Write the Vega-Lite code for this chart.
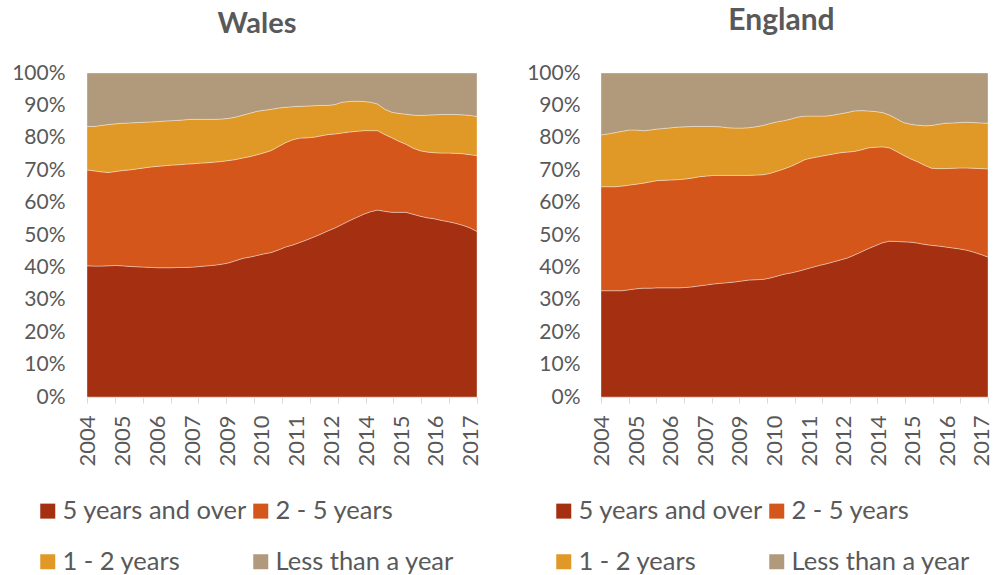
{
 "$schema": "https://vega.github.io/schema/vega-lite/v6.json",
 "padding": {"left": 11, "top": 6, "right": 0, "bottom": 0},
 "config": {"view": {"stroke": null}, "font": "Lato", "concat": {"spacing": 38}},
 "datasets": {
  "wales": [
   {"t":0,"a":40.5,"b":29.6,"c":13.4,"d":16.5},{"t":1,"a":40.4,"b":29.4,"c":13.7,"d":16.5},{"t":2,"a":40.4,"b":29.1,"c":14.3,"d":16.2},{"t":3,"a":40.5,"b":28.8,"c":14.8,"d":15.9},
   {"t":4,"a":40.6,"b":29.0,"c":14.7,"d":15.7},{"t":5,"a":40.5,"b":29.4,"c":14.6,"d":15.5},{"t":6,"a":40.3,"b":29.8,"c":14.5,"d":15.4},{"t":7,"a":40.2,"b":30.2,"c":14.3,"d":15.3},
   {"t":8,"a":40.1,"b":30.6,"c":14.1,"d":15.2},{"t":9,"a":40.0,"b":31.0,"c":13.9,"d":15.1},{"t":10,"a":39.9,"b":31.3,"c":13.8,"d":15.0},{"t":11,"a":39.9,"b":31.5,"c":13.8,"d":14.8},
   {"t":12,"a":39.9,"b":31.7,"c":13.7,"d":14.7},{"t":13,"a":40.0,"b":31.7,"c":13.7,"d":14.6},{"t":14,"a":40.0,"b":31.9,"c":13.7,"d":14.4},{"t":15,"a":40.1,"b":31.9,"c":13.7,"d":14.3},
   {"t":16,"a":40.3,"b":31.9,"c":13.5,"d":14.3},{"t":17,"a":40.5,"b":31.8,"c":13.4,"d":14.3},{"t":18,"a":40.7,"b":31.8,"c":13.2,"d":14.3},{"t":19,"a":41.0,"b":31.7,"c":13.1,"d":14.2},
   {"t":20,"a":41.4,"b":31.6,"c":13.0,"d":14.0},{"t":21,"a":42.1,"b":31.2,"c":13.1,"d":13.6},{"t":22,"a":42.8,"b":31.0,"c":13.2,"d":13.0},{"t":23,"a":43.2,"b":31.0,"c":13.4,"d":12.4},
   {"t":24,"a":43.7,"b":31.1,"c":13.4,"d":11.8},{"t":25,"a":44.2,"b":31.2,"c":13.1,"d":11.5},{"t":26,"a":44.6,"b":31.5,"c":12.7,"d":11.2},{"t":27,"a":45.4,"b":31.9,"c":11.9,"d":10.8},
   {"t":28,"a":46.3,"b":32.2,"c":10.9,"d":10.6},{"t":29,"a":46.9,"b":32.5,"c":10.2,"d":10.4},{"t":30,"a":47.7,"b":32.2,"c":9.8,"d":10.3},{"t":31,"a":48.5,"b":31.5,"c":9.8,"d":10.2},
   {"t":32,"a":49.4,"b":30.8,"c":9.7,"d":10.1},{"t":33,"a":50.3,"b":30.3,"c":9.4,"d":10.0},{"t":34,"a":51.3,"b":29.7,"c":9.0,"d":10.0},{"t":35,"a":52.2,"b":29.0,"c":9.1,"d":9.7},
   {"t":36,"a":53.3,"b":28.2,"c":9.5,"d":9.0},{"t":37,"a":54.4,"b":27.4,"c":9.4,"d":8.8},{"t":38,"a":55.4,"b":26.6,"c":9.3,"d":8.7},{"t":39,"a":56.4,"b":25.8,"c":9.0,"d":8.8},
   {"t":40,"a":57.2,"b":25.0,"c":8.8,"d":9.0},{"t":41,"a":57.7,"b":24.5,"c":8.2,"d":9.6},{"t":42,"a":57.3,"b":23.7,"c":7.8,"d":11.2},{"t":43,"a":57.0,"b":23.0,"c":7.9,"d":12.1},
   {"t":44,"a":57.0,"b":21.9,"c":8.6,"d":12.5},{"t":45,"a":57.0,"b":21.0,"c":9.3,"d":12.7},{"t":46,"a":56.4,"b":20.4,"c":10.2,"d":13.0},{"t":47,"a":55.8,"b":20.2,"c":10.9,"d":13.1},
   {"t":48,"a":55.3,"b":20.3,"c":11.4,"d":13.0},{"t":49,"a":55.0,"b":20.4,"c":11.7,"d":12.9},{"t":50,"a":54.5,"b":20.8,"c":11.9,"d":12.8},{"t":51,"a":54.1,"b":21.2,"c":11.9,"d":12.8},
   {"t":52,"a":53.6,"b":21.6,"c":12.0,"d":12.8},{"t":53,"a":53.0,"b":22.1,"c":12.0,"d":12.9},{"t":54,"a":52.2,"b":22.6,"c":12.1,"d":13.1},{"t":55,"a":51.1,"b":23.4,"c":12.1,"d":13.4}
  ],
  "england": [
   {"t":0,"a":32.8,"b":32.1,"c":16.0,"d":19.1},{"t":1,"a":32.8,"b":32.1,"c":16.3,"d":18.8},{"t":2,"a":32.8,"b":32.1,"c":16.7,"d":18.4},{"t":3,"a":32.8,"b":32.3,"c":16.9,"d":18.0},
   {"t":4,"a":33.1,"b":32.3,"c":17.0,"d":17.6},{"t":5,"a":33.4,"b":32.3,"c":16.7,"d":17.6},{"t":6,"a":33.6,"b":32.4,"c":16.2,"d":17.8},{"t":7,"a":33.6,"b":32.8,"c":16.0,"d":17.6},
   {"t":8,"a":33.7,"b":33.1,"c":15.9,"d":17.3},{"t":9,"a":33.7,"b":33.2,"c":16.0,"d":17.1},{"t":10,"a":33.7,"b":33.3,"c":16.1,"d":16.9},{"t":11,"a":33.7,"b":33.4,"c":16.2,"d":16.7},
   {"t":12,"a":33.8,"b":33.5,"c":16.1,"d":16.6},{"t":13,"a":34.0,"b":33.6,"c":15.9,"d":16.5},{"t":14,"a":34.3,"b":33.7,"c":15.5,"d":16.5},{"t":15,"a":34.6,"b":33.6,"c":15.3,"d":16.5},
   {"t":16,"a":34.9,"b":33.5,"c":15.1,"d":16.5},{"t":17,"a":35.1,"b":33.3,"c":15.0,"d":16.6},{"t":18,"a":35.3,"b":33.1,"c":14.7,"d":16.9},{"t":19,"a":35.5,"b":32.9,"c":14.6,"d":17.0},
   {"t":20,"a":35.8,"b":32.6,"c":14.6,"d":17.0},{"t":21,"a":36.1,"b":32.3,"c":14.7,"d":16.9},{"t":22,"a":36.2,"b":32.3,"c":14.9,"d":16.6},{"t":23,"a":36.3,"b":32.3,"c":15.2,"d":16.2},
   {"t":24,"a":36.7,"b":32.3,"c":15.4,"d":15.6},{"t":25,"a":37.3,"b":32.4,"c":15.2,"d":15.1},{"t":26,"a":37.9,"b":32.5,"c":14.9,"d":14.7},{"t":27,"a":38.3,"b":32.9,"c":14.6,"d":14.2},
   {"t":28,"a":38.8,"b":33.4,"c":14.2,"d":13.6},{"t":29,"a":39.4,"b":33.9,"c":13.4,"d":13.3},{"t":30,"a":40.0,"b":33.8,"c":12.9,"d":13.3},{"t":31,"a":40.6,"b":33.6,"c":12.5,"d":13.3},
   {"t":32,"a":41.1,"b":33.5,"c":12.1,"d":13.3},{"t":33,"a":41.7,"b":33.3,"c":12.0,"d":13.0},{"t":34,"a":42.3,"b":33.1,"c":12.0,"d":12.6},{"t":35,"a":42.9,"b":32.7,"c":12.2,"d":12.2},
   {"t":36,"a":43.8,"b":32.0,"c":12.5,"d":11.7},{"t":37,"a":44.8,"b":31.5,"c":12.1,"d":11.6},{"t":38,"a":45.8,"b":31.1,"c":11.4,"d":11.7},{"t":39,"a":46.7,"b":30.4,"c":11.0,"d":11.9},
   {"t":40,"a":47.6,"b":29.6,"c":10.6,"d":12.2},{"t":41,"a":48.1,"b":28.8,"c":10.1,"d":13.0},{"t":42,"a":48.0,"b":27.8,"c":10.1,"d":14.1},{"t":43,"a":47.9,"b":26.7,"c":10.1,"d":15.3},
   {"t":44,"a":47.8,"b":25.7,"c":10.7,"d":15.8},{"t":45,"a":47.5,"b":25.1,"c":11.3,"d":16.1},{"t":46,"a":47.1,"b":24.4,"c":12.2,"d":16.3},{"t":47,"a":46.8,"b":23.8,"c":13.2,"d":16.2},
   {"t":48,"a":46.6,"b":23.9,"c":13.7,"d":15.8},{"t":49,"a":46.3,"b":24.2,"c":14.0,"d":15.5},{"t":50,"a":46.0,"b":24.6,"c":14.0,"d":15.4},{"t":51,"a":45.7,"b":25.0,"c":14.0,"d":15.3},
   {"t":52,"a":45.3,"b":25.4,"c":14.1,"d":15.2},{"t":53,"a":44.7,"b":25.9,"c":14.1,"d":15.3},{"t":54,"a":44.0,"b":26.5,"c":14.1,"d":15.4},{"t":55,"a":43.2,"b":27.2,"c":14.1,"d":15.5}
  ]
 },
 "hconcat": [
  {
   "title": {"text": "Wales", "fontSize": 29, "fontWeight": "bold", "color": "#595959", "offset": 26, "anchor": "middle", "font": "Lato", "dx": -25, "dy": 3},
   "width": 390, "height": 324,
   "data": {"name": "wales"},
   "transform": [{"fold": ["a", "b", "c", "d"], "as": ["k", "v"]}],
   "mark": {"type": "area", "stroke": "#ffffff", "strokeWidth": 0.6, "strokeOpacity": 0.6},
   "encoding": {
    "x": {"field": "t", "type": "quantitative", "scale": {"domain": [0, 55], "nice": false, "zero": false},
     "axis": {"title": null, "grid": false, "values": [0, 0.1, 3.9286, 5.011, 7.8571, 9.922, 11.7857, 14.833, 15.7143, 19.744, 19.6429, 23.5714, 24.655, 27.5, 29.566, 31.4286, 34.477, 35.3571, 39.2857, 39.388, 43.2143, 44.299, 47.1429, 49.21, 51.0714, 54.121, 55],
      "labelExpr": "abs((datum.value-0.1)/4.911 - round((datum.value-0.1)/4.911)) < 0.004 ? '' + (2004 + floor(round((datum.value-0.1)/4.911)*5/4)) : ''",
      "tickOpacity": {"condition": {"test": "abs((datum.value-0.1)/4.911 - round((datum.value-0.1)/4.911)) < 0.004", "value": 0}, "value": 1},
      "labelAngle": -90, "labelFontSize": 22, "labelColor": "#595959", "labelOverlap": false, "labelFlush": false, "labelBound": false,
      "domainColor": "#d9d9d9", "tickColor": "#d9d9d9", "tickSize": 6, "labelPadding": 12}},
    "y": {"field": "v", "type": "quantitative", "stack": "normalize", "scale": {"domain": [0, 1], "nice": false},
     "axis": {"title": null, "grid": false, "domain": false, "ticks": false, "values": [0, 0.1, 0.2, 0.3, 0.4, 0.5, 0.6, 0.7, 0.8, 0.9, 1], "format": ".0%", "labelFontSize": 21, "labelColor": "#595959", "labelPadding": 22}},
    "order": {"field": "k", "sort": "ascending"},
    "color": {"field": "k", "type": "nominal",
     "scale": {"domain": ["a", "b", "c", "d"], "range": ["#A42F11", "#D4561A", "#E09826", "#B19A7C"]},
     "legend": {"title": null, "orient": "none", "legendX": -52, "legendY": 425, "direction": "horizontal", "columns": 2,
      "symbolType": "square", "symbolSize": 225, "symbolStrokeWidth": 0, "labelFontSize": 25.5, "labelColor": "#595959", "labelOffset": 2, "rowPadding": 24, "columnPadding": 1, "labelLimit": 400,
      "labelExpr": "datum.label == 'a' ? '5 years and over' : datum.label == 'b' ? '2 - 5 years' : datum.label == 'c' ? '1 - 2 years' : 'Less than a year'"}}
   }
  },
  {
   "title": {"text": "England", "fontSize": 30, "fontWeight": "bold", "color": "#595959", "offset": 26, "anchor": "middle", "font": "Lato", "dx": -13},
   "width": 387, "height": 324,
   "data": {"name": "england"},
   "transform": [{"fold": ["a", "b", "c", "d"], "as": ["k", "v"]}],
   "mark": {"type": "area", "stroke": "#ffffff", "strokeWidth": 0.6, "strokeOpacity": 0.6},
   "encoding": {
    "x": {"field": "t", "type": "quantitative", "scale": {"domain": [0, 55], "nice": false, "zero": false},
     "axis": {"title": null, "grid": false, "values": [0, 0.1, 3.9286, 5.011, 7.8571, 9.922, 11.7857, 14.833, 15.7143, 19.744, 19.6429, 23.5714, 24.655, 27.5, 29.566, 31.4286, 34.477, 35.3571, 39.2857, 39.388, 43.2143, 44.299, 47.1429, 49.21, 51.0714, 54.121, 55],
      "labelExpr": "abs((datum.value-0.1)/4.911 - round((datum.value-0.1)/4.911)) < 0.004 ? '' + (2004 + floor(round((datum.value-0.1)/4.911)*5/4)) : ''",
      "tickOpacity": {"condition": {"test": "abs((datum.value-0.1)/4.911 - round((datum.value-0.1)/4.911)) < 0.004", "value": 0}, "value": 1},
      "labelAngle": -90, "labelFontSize": 22, "labelColor": "#595959", "labelOverlap": false, "labelFlush": false, "labelBound": false,
      "domainColor": "#d9d9d9", "tickColor": "#d9d9d9", "tickSize": 6, "labelPadding": 12}},
    "y": {"field": "v", "type": "quantitative", "stack": "normalize", "scale": {"domain": [0, 1], "nice": false},
     "axis": {"title": null, "grid": false, "domain": false, "ticks": false, "values": [0, 0.1, 0.2, 0.3, 0.4, 0.5, 0.6, 0.7, 0.8, 0.9, 1], "format": ".0%", "labelFontSize": 21, "labelColor": "#595959", "labelPadding": 21}},
    "order": {"field": "k", "sort": "ascending"},
    "color": {"field": "k", "type": "nominal",
     "scale": {"domain": ["a", "b", "c", "d"], "range": ["#A42F11", "#D4561A", "#E09826", "#B19A7C"]},
     "legend": {"title": null, "orient": "none", "legendX": -50, "legendY": 425, "direction": "horizontal", "columns": 2,
      "symbolType": "square", "symbolSize": 225, "symbolStrokeWidth": 0, "labelFontSize": 25.5, "labelColor": "#595959", "labelOffset": 2, "rowPadding": 24, "columnPadding": 1, "labelLimit": 400,
      "labelExpr": "datum.label == 'a' ? '5 years and over' : datum.label == 'b' ? '2 - 5 years' : datum.label == 'c' ? '1 - 2 years' : 'Less than a year'"}}
   }
  }
 ],
 "resolve": {"scale": {"color": "independent"}, "legend": {"color": "independent"}}
}
